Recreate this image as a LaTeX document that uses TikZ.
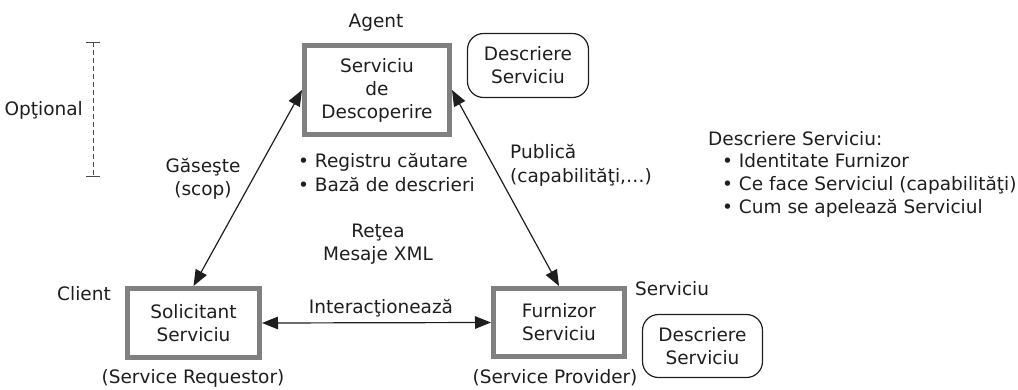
\documentclass[tikz,border=0pt]{standalone}
\usepackage{fontspec}
\setmainfont{DejaVu Sans}
\usetikzlibrary{arrows.meta}
\definecolor{ink}{HTML}{1E1E1E}
\definecolor{frame}{HTML}{808080}
\begin{document}
\begin{tikzpicture}[x=1pt,y=-1pt,
  every node/.style={text=ink, font=\fontsize{18.5}{23}\selectfont, inner sep=0pt},
  rolebox/.style={draw=frame, line width=5pt, align=center},
  descbox/.style={draw=ink, line width=1.2pt, rounded corners=16pt, align=center,
                  minimum width=120pt, minimum height=63pt},
  link/.style={draw=ink, line width=1.2pt,
               {Triangle[length=16pt,width=12.5pt]}-{Triangle[length=16pt,width=12.5pt]}},
  lbl/.style={anchor=base},
  lblw/.style={anchor=base west},
  bracket/.style={draw=ink!80, line width=1pt}]

\useasboundingbox (0,0) rectangle (1018,389);

% the three roles
\node[rolebox, minimum width=145pt, minimum height=89pt] (disc) at (377,90) {Serviciu\\de\\Descoperire};
\node[rolebox, minimum width=132pt, minimum height=69pt] (req) at (193.5,323) {Solicitant\\Serviciu};
\node[rolebox, minimum width=131pt, minimum height=68pt] (prov) at (559,322.5) {Furnizor\\Serviciu};

% service descriptions
\node[descbox, minimum width=121pt, minimum height=64pt] (dtop) at (528,65.5) {Descriere\\Serviciu};
\node[descbox] (dbot) at (702.5,346) {Descriere\\Serviciu};

% interactions
\draw[link] (req.north) -- (disc.west);
\draw[link] (disc.east) -- (prov.north);
\draw[link] (req.east) -- (prov.west);

% optional bracket
\coordinate (optTop) at (93,42);
\coordinate (optBot) at (93,176);
\draw[bracket, dash pattern=on 5pt off 3pt] (optTop) -- (optBot);
\draw[bracket] ([xshift=-7pt]optTop) -- ([xshift=7pt]optTop);
\draw[bracket] ([xshift=-7pt]optBot) -- ([xshift=7pt]optBot);
\node[anchor=base east] (opt) at (83,115) {Opţional};

% role labels
\node[lbl] (agent) at (376,27) {Agent};
\node[anchor=base west] (client) at (57,300) {Client};
\node[lblw] (svc) at (635,295) {Serviciu};
\node[lbl] (reqen) at (193,383) {(Service Requestor)};
\node[lbl] (proven) at (555,383) {(Service Provider)};

% connector labels
\node[lbl] (find) at (203,172) {Găseşte};
\node[lbl] (scope) at (203,195) {(scop)};
\node[lblw] (pub) at (510,158) {Publică};
\node[lblw] (cap) at (510,182) {(capabilităţi,…)};
\node[lbl] (inter) at (381,313) {Interacţionează};

% registry contents and network
\node[lblw] (reg1) at (298,167) {• Registru căutare};
\node[lblw] (reg2) at (298,191) {• Bază de descrieri};
\node[lbl] (net) at (378,237) {Reţea};
\node[lbl] (xml) at (378,260) {Mesaje XML};

% what a description holds
\node[lblw] (dhead) at (708,145) {Descriere Serviciu:};
\node[lblw] (d1) at (722,167) {• Identitate Furnizor};
\node[lblw] (d2) at (722,190) {• Ce face Serviciul (capabilităţi)};
\node[lblw] (d3) at (722,213) {• Cum se apelează Serviciul};

\end{tikzpicture}
\end{document}
